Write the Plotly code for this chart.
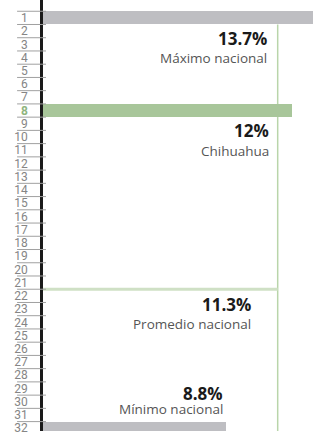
import plotly.graph_objects as go

# ---- data ----
ranks = list(range(1, 33))
highlight_ranks = [1, 8, 32]
highlight_values = [13.7, 12.0, 8.8]
highlight_names = ["Máximo nacional", "Chihuahua", "Mínimo nacional"]
highlight_labels = ["13.7%", "12%", "8.8%"]
average_value = 11.3
average_name = "Promedio nacional"
average_label = "11.3%"
average_rank = 21.5
state_rank = 8

GRAY = "#bebec2"
GREEN = "#a8c69a"
AVG_LINE = "#cfe0c5"
VLINE = "#b9d5aa"

bar_colors = [GRAY, GREEN, GRAY]

fig = go.Figure()

fig.add_trace(go.Bar(
    x=highlight_values, y=highlight_ranks, orientation="h",
    width=1.0, marker=dict(color=bar_colors, line=dict(width=0)),
    hoverinfo="skip", showlegend=False,
))

# tick labels
ticktext = []
for r in ranks:
    if r == state_rank:
        ticktext.append(f"<span style='color:#8fb47e'><b>{r}</b></span>")
    else:
        ticktext.append(str(r))

shapes = []
# row separator lines in left margin
for r in [0] + ranks:
    shapes.append(dict(type="line", xref="paper", yref="y",
                       x0=-0.096, x1=0.011, y0=r + 0.5, y1=r + 0.5,
                       line=dict(color="#a0a0a0", width=1), layer="above"))
# vertical line at average value
shapes.append(dict(type="line", xref="x", yref="y",
                   x0=average_value, x1=average_value, y0=1.5, y1=33,
                   line=dict(color=VLINE, width=1.5), layer="below"))
# average horizontal line
shapes.append(dict(type="line", xref="x", yref="y",
                   x0=0, x1=average_value, y0=average_rank, y1=average_rank,
                   line=dict(color=AVG_LINE, width=3), layer="below"))

# annotations: positions (x data, y data)
label_x = [10.9, 11.0, 8.78]
pct_y = [2.55, 9.5, 29.35]
name_y = [4.05, 11.05, 30.55]
annotations = []
for lx, py, ny, lab, name in zip(label_x, pct_y, name_y, highlight_labels, highlight_names):
    annotations.append(dict(x=lx, y=py, xref="x", yref="y", text=f"<b>{lab}</b>",
                            showarrow=False, xanchor="right", yanchor="middle",
                            font=dict(family="Open Sans", size=17, color="#1a1a1a")))
    annotations.append(dict(x=lx, y=ny, xref="x", yref="y", text=name,
                            showarrow=False, xanchor="right", yanchor="middle",
                            font=dict(family="Open Sans", size=13.5, color="#555555")))
annotations.append(dict(x=10.1, y=22.65, xref="x", yref="y", text=f"<b>{average_label}</b>",
                        showarrow=False, xanchor="right", yanchor="middle",
                        font=dict(family="Open Sans", size=17, color="#1a1a1a")))
annotations.append(dict(x=10.1, y=24.15, xref="x", yref="y", text=average_name,
                        showarrow=False, xanchor="right", yanchor="middle",
                        font=dict(family="Open Sans", size=13.5, color="#555555")))

fig.update_layout(
    width=313, height=435,
    margin=dict(l=43, r=0, t=0, b=0),
    paper_bgcolor="white", plot_bgcolor="white",
    shapes=shapes, annotations=annotations,
    xaxis=dict(range=[0, 13.0], visible=False, showgrid=False, zeroline=False, fixedrange=True),
    yaxis=dict(range=[32.21, -0.35], tickmode="array", tickvals=ranks, ticktext=ticktext,
               showgrid=False, zeroline=False, showline=True, linecolor="#1a1a1a",
               linewidth=2.5, ticks="", ticklabelstandoff=10, fixedrange=True,
               ticklabeloverflow="allow",
               tickfont=dict(family="Liberation Sans Narrow, Roboto, sans-serif", size=12, color="#858585")),
    bargap=0,
)

fig.write_html("out.html", config={"displayModeBar": False},
               post_script="document.body.style.margin='0';")
